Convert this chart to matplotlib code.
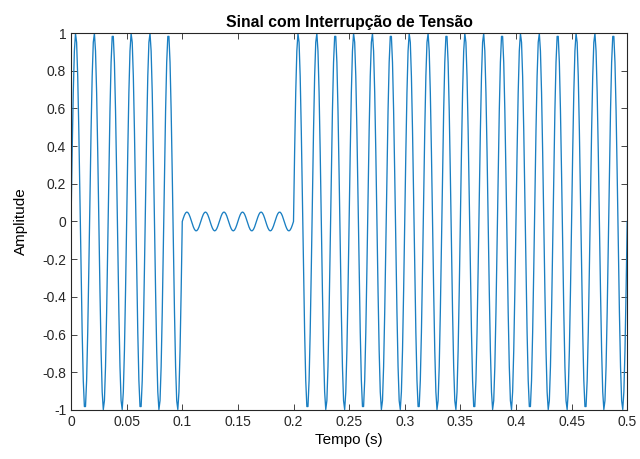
import numpy as np
import matplotlib
matplotlib.use('Agg')
import matplotlib.pyplot as plt

# signal definition: segments with start/end time and amplitude
seg_start = [0.0, 0.1, 0.2]
seg_end = [0.1, 0.2, 0.5]
seg_amp = [1.0, 0.05, 1.0]
freq = 60        # Hz
fs = 1000        # sampling rate (Hz)

xticks = [0, 0.05, 0.1, 0.15, 0.2, 0.25, 0.3, 0.35, 0.4, 0.45, 0.5]
yticks = [-1, -0.8, -0.6, -0.4, -0.2, 0, 0.2, 0.4, 0.6, 0.8, 1]

#=====================================================

def buildSignal():
    t = np.arange(0, seg_end[-1] + 1e-9, 1 / fs)
    amp = np.zeros_like(t)
    for a, b, A in zip(seg_start, seg_end, seg_amp):
        amp[(t >= a - 1e-9) & (t < b - 1e-9)] = A
    amp[-1] = seg_amp[-1]
    y = amp * np.sin(2 * np.pi * freq * t)
    return t, y

def plotFigure(t, y):
    plt.rcParams['font.family'] = ['Liberation Sans', 'DejaVu Sans']
    fig = plt.figure(figsize=(6.4, 4.59), dpi=100)
    ax = fig.add_axes([0.111, 0.107, 0.869, 0.821])

    ax.plot(t, y, color='#1a7fc2', linewidth=0.95)

    ax.set_xlim(0, 0.5)
    ax.set_ylim(-1, 1)
    ax.set_xticks(xticks)
    ax.set_xticklabels([f'{v:g}' for v in xticks])
    ax.set_yticks(yticks)
    ax.set_yticklabels([f'{v:g}' for v in yticks])
    ax.tick_params(direction='in', top=True, right=True, labelsize=10,
                   length=4, width=0.6, colors='#262626')
    for s in ax.spines.values():
        s.set_linewidth(0.8)
        s.set_color('#262626')

    ax.set_title('Sinal com Interrupção de Tensão', fontsize=11.3, fontweight='bold', pad=4)
    ax.set_xlabel('Tempo (s)', fontsize=11, labelpad=3)
    ax.set_ylabel('Amplitude', fontsize=11, labelpad=10)

    fig.savefig('out.png', dpi=100)

t, y = buildSignal()
plotFigure(t, y)
